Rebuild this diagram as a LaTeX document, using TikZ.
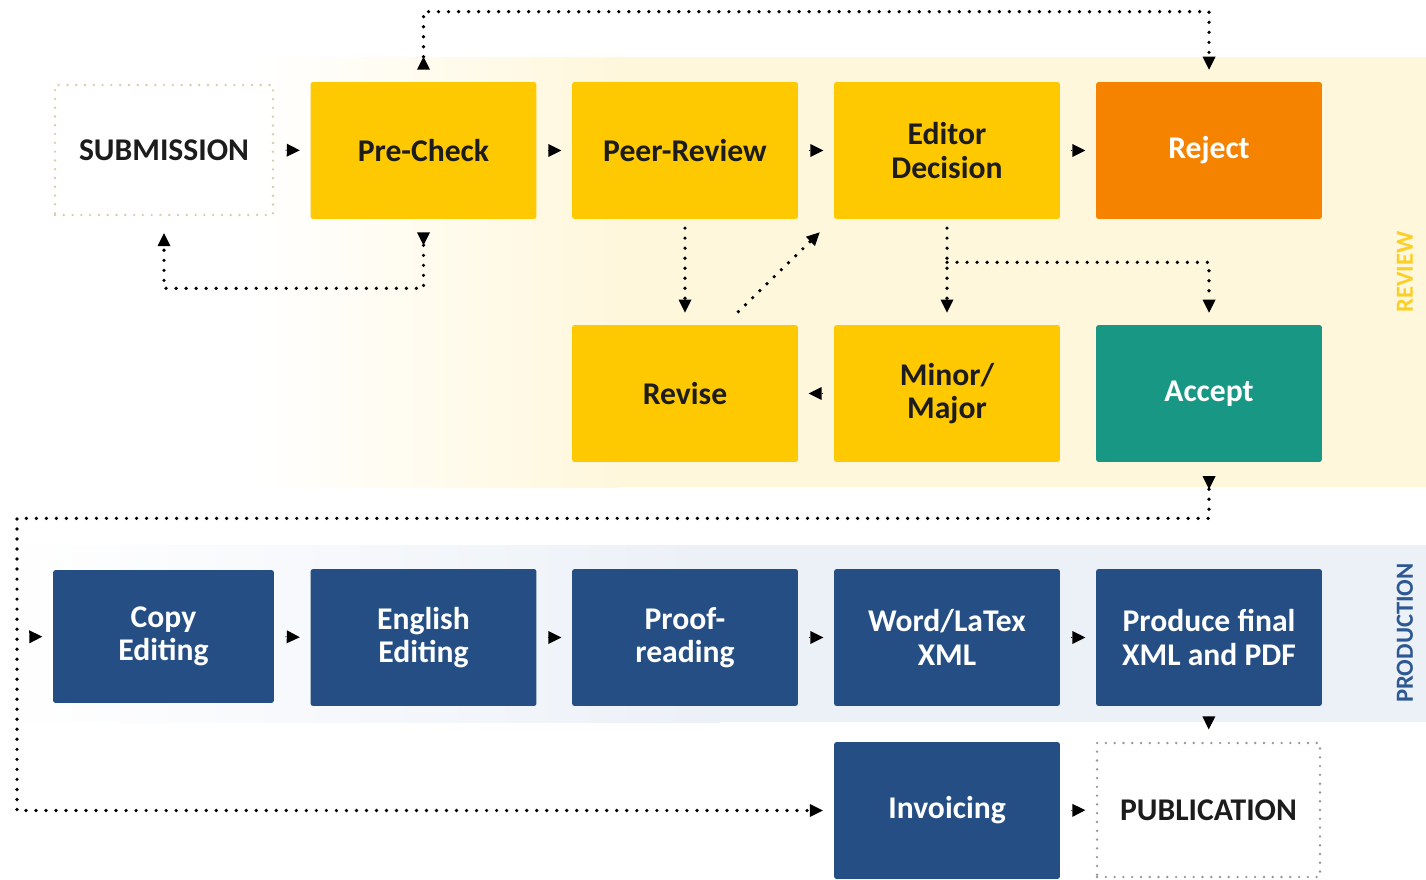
\documentclass[tikz,border=0pt]{standalone}
\usepackage{fontspec}
\setmainfont{Carlito}
\usetikzlibrary{arrows.meta,calc}

\definecolor{BoxYellow}{RGB}{254,201,0}
\definecolor{BoxOrange}{RGB}{245,131,0}
\definecolor{BoxTeal}{RGB}{24,152,132}
\definecolor{BoxBlue}{RGB}{37,79,132}
\definecolor{ReviewBg}{RGB}{255,247,220}
\definecolor{ProdBg}{RGB}{236,240,247}
\definecolor{ReviewLabel}{RGB}{250,208,40}
\definecolor{ProdLabel}{RGB}{45,88,145}
\definecolor{TextDark}{RGB}{28,28,28}
\definecolor{SubBorder}{RGB}{214,204,168}
\definecolor{PubBorder}{RGB}{150,150,150}

\begin{document}
\begin{tikzpicture}[x=0.02cm, y=-0.02cm,
    stepbox/.style={rectangle, rounded corners=1.5pt, inner sep=0pt,
        minimum width=4.52cm, minimum height=2.74cm, align=center,
        font=\fontsize{18}{19}\selectfont\bfseries},
    reviewbox/.style={stepbox, fill=BoxYellow, text=TextDark},
    prodbox/.style={stepbox, fill=BoxBlue, text=white},
    endbox/.style={stepbox, rounded corners=0pt, line width=1.5pt,
        dash pattern=on 0pt off 5pt, line cap=round, text=TextDark},
    steparrow/.style={-{Triangle[length=7.4pt,width=7.4pt,line width=0pt]},
        line width=0.3pt, shorten <=6.2pt, shorten >=5.9pt},
    flowline/.style={line width=2.1pt, dash pattern=on 0pt off 5.7pt, line cap=round},
    endtip/.style={-{Triangle[length=7.4pt,width=7.4pt,line width=0pt]}},
    revtip/.style={{Triangle[reversed,length=7.4pt,width=7.4pt,line width=0pt]}-{Triangle[length=7.4pt,width=7.4pt,line width=0pt]}},
    sidelabel/.style={rotate=90, font=\fontsize{14}{14}\selectfont\bfseries},
]

\useasboundingbox (0,0) rectangle (1426,879);

% _____ Backgrounds
\def\ReviewTop{57}
\def\ReviewBottom{487}
\def\ProdTop{545}
\def\ProdBottom{722}

\shade[left color=white, right color=ReviewBg] (250,\ReviewTop) rectangle (620,\ReviewBottom);
\fill[ReviewBg] (619,\ReviewTop) rectangle (1426,\ReviewBottom);
\shade[left color=white, right color=ProdBg] (0,\ProdTop) rectangle (720,\ProdBottom);
\fill[ProdBg] (719,\ProdTop) rectangle (1426,\ProdBottom);

\node[sidelabel, text=ReviewLabel] (reviewlabel) at (1405,272) {REVIEW};
\node[sidelabel, text=ProdLabel] (prodlabel) at (1405,633) {PRODUCTION};

% _____ Review boxes
\node[endbox, draw=SubBorder, minimum width=4.36cm, minimum height=2.6cm] (sub) at (164,150) {SUBMISSION};
\node[reviewbox] (pre) at (423.5,150.5) {Pre-Check};
\node[reviewbox] (peer) at (685,150.5) {Peer-Review};
\node[reviewbox] (ed) at (947,150.5) {Editor\\Decision};
\node[stepbox, fill=BoxOrange, text=white] (reject) at (1209,150.5) {Reject};

\node[reviewbox] (revise) at (685,393.5) {Revise};
\node[reviewbox] (minor) at (947,393.5) {Minor/\\Major};
\node[stepbox, fill=BoxTeal, text=white] (accept) at (1209,393.5) {Accept};

% _____ Production boxes
\node[prodbox, minimum width=4.42cm, minimum height=2.66cm] (copy) at (163.5,636.5) {Copy\\Editing};
\node[prodbox] (english) at (423.5,637.5) {English\\Editing};
\node[prodbox] (proof) at (685,637.5) {Proof-\\reading};
\node[prodbox] (word) at (947,637.5) {Word/LaTex\\XML};
\node[prodbox] (final) at (1209,637.5) {Produce final\\XML and PDF};

\node[prodbox] (inv) at (947,810.5) {Invoicing};
\node[endbox, draw=PubBorder, minimum width=4.46cm, minimum height=2.68cm] (pub) at (1208.5,810) {PUBLICATION};

% _____ Step arrows
\draw[steparrow] (sub.east) -- (pre.west);
\draw[steparrow] (pre.east) -- (peer.west);
\draw[steparrow] (peer.east) -- (ed.west);
\draw[steparrow] (ed.east) -- (reject.west);
\draw[steparrow] (minor.west) -- (revise.east);

\coordinate (feed) at (17,637);
\draw[steparrow, shorten <=7pt] (feed) -- (copy.west);
\draw[steparrow] (copy.east) -- (english.west);
\draw[steparrow] (english.east) -- (proof.west);
\draw[steparrow] (proof.east) -- (word.west);
\draw[steparrow] (word.east) -- (final.west);
\draw[steparrow, shorten <=7pt, shorten >=7pt] (final.south) -- (pub.north);
\draw[steparrow] (inv.east) -- (pub.west);

% _____ Dotted flows
\draw[flowline, revtip, shorten <=6.8pt, shorten >=6.8pt] (pre.north) -- ++(0,-70) -| (reject.north);
\draw[flowline, revtip, shorten <=7.4pt, shorten >=9.6pt] (pre.south) -- ++(0,69) -| (sub.south);

\draw[flowline, endtip, shorten <=5pt, shorten >=6.8pt] (peer.south) -- (revise.north);
\draw[flowline, endtip] ($(revise.north east)+(-60,-13)$) -- ($(ed.south west)+(-14,13)$);
\draw[flowline, endtip, shorten <=5pt, shorten >=6.8pt] (ed.south) -- (minor.north);
\draw[flowline, endtip, shorten >=6.8pt] ($(ed.south)+(0,43)$) -| (accept.north);

\draw[flowline, revtip, shorten <=7.9pt, shorten >=6.2pt] (accept.south) -- ++(0,56) -- ++(-1192,0) |- (inv.west);

\end{tikzpicture}
\end{document}
